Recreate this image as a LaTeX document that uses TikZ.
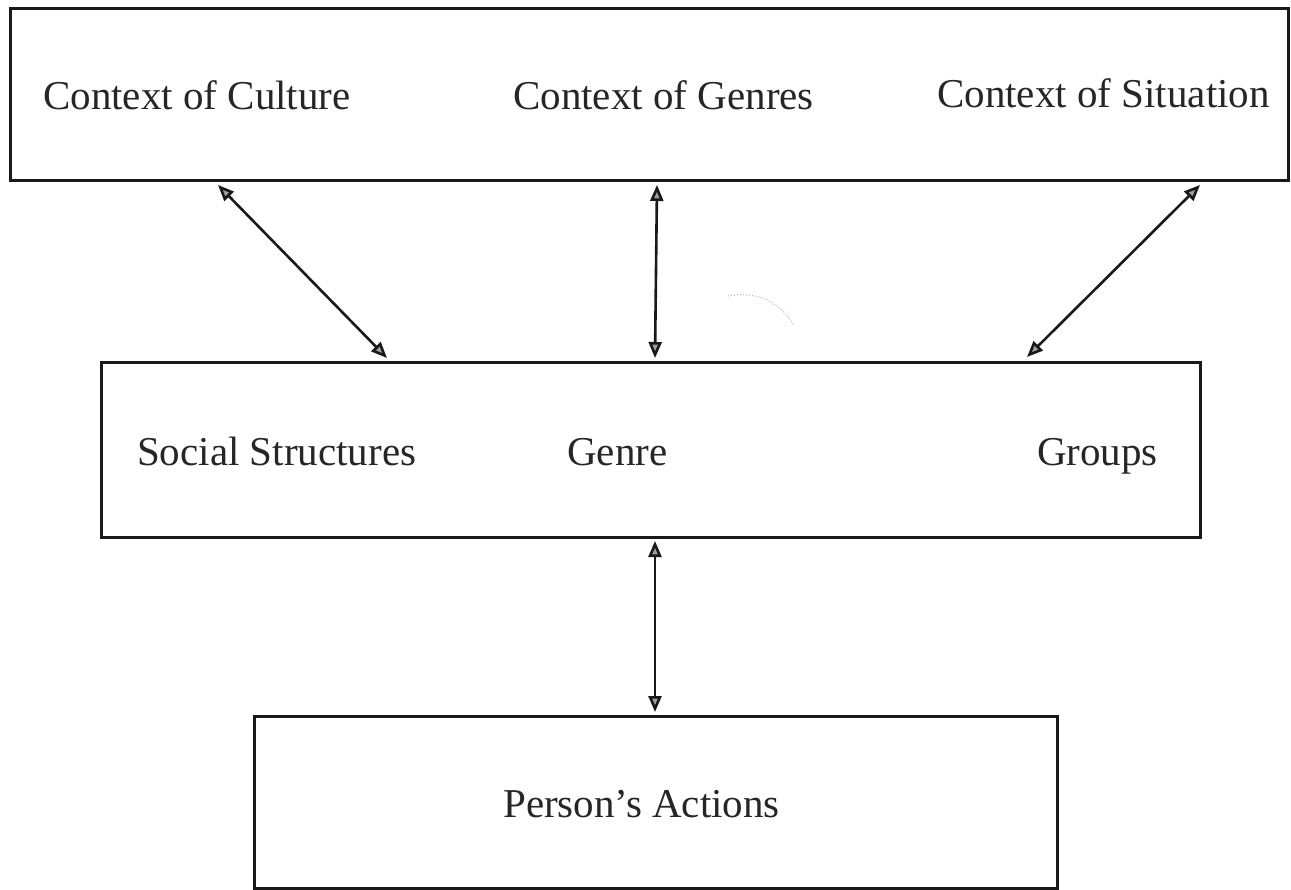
\documentclass[tikz,border=0pt]{standalone}
\usepackage{fontspec}
\setmainfont{Liberation Serif}
\usetikzlibrary{arrows.meta}

\tikzset{
  panel/.style={draw=black!90, line width=3pt, rectangle, inner sep=0pt},
  label/.style={anchor=base west, inner sep=0pt, text=black!85,
                font=\fontsize{41}{48}\selectfont},
  tip/.style={Triangle[length=16pt,width=13pt,fill=gray!75]},
  link/.style={draw=black!90, line width=2.6pt, {Triangle[length=16pt,width=13pt,fill=gray!75]}-{Triangle[length=16pt,width=13pt,fill=gray!75]}}
}

\begin{document}
\begin{tikzpicture}[x=1pt, y=-1pt]
  \useasboundingbox (0,0) rectangle (1291,890);
  \fill[white] (0,0) rectangle (1291,890);

  % the three boxes
  \node[panel, minimum width=1278pt, minimum height=172pt] (context) at (649,95) {};
  \node[panel, minimum width=1099pt, minimum height=174pt] (middle) at (650.5,450) {};
  \node[panel, minimum width=803pt, minimum height=172pt] (person) at (655.5,802) {};

  % labels in the top box
  \node[label] (culture) at (43,110) {Context of Culture};
  \node[label] (genres) at (513,110) {Context of Genres};
  \node[label] (situation) at (937,108) {Context of Situation};

  % labels in the middle box
  \node[label] (social) at (137,465) {Social Structures};
  \node[label] (genre) at (567,465) {Genre};
  \node[label, anchor=base east] (groups) at (1158,465) {Groups};

  % label in the bottom box
  \node[label] (actions) at (503,817) {Person’s Actions};

  % arrow ends on the box edges
  \coordinate (c1) at (218,185);
  \coordinate (s1) at (387,358);
  \coordinate (c2) at (657,185);
  \coordinate (s2) at (655,358);
  \coordinate (c3) at (1200,185);
  \coordinate (s3) at (1027,357);
  \coordinate (m4) at (655,541);
  \coordinate (p4) at (655,712);

  \draw[link] (c1) -- (s1);
  \draw[link] (c2) -- (s2);
  \draw[link] (c3) -- (s3);
  \draw[link] (m4) -- (p4);

  % faint pencil stroke
  \draw[gray!60, line width=1pt, dotted] (728,296) .. controls (760,290) and (782,305) .. (793,324);
\end{tikzpicture}
\end{document}
